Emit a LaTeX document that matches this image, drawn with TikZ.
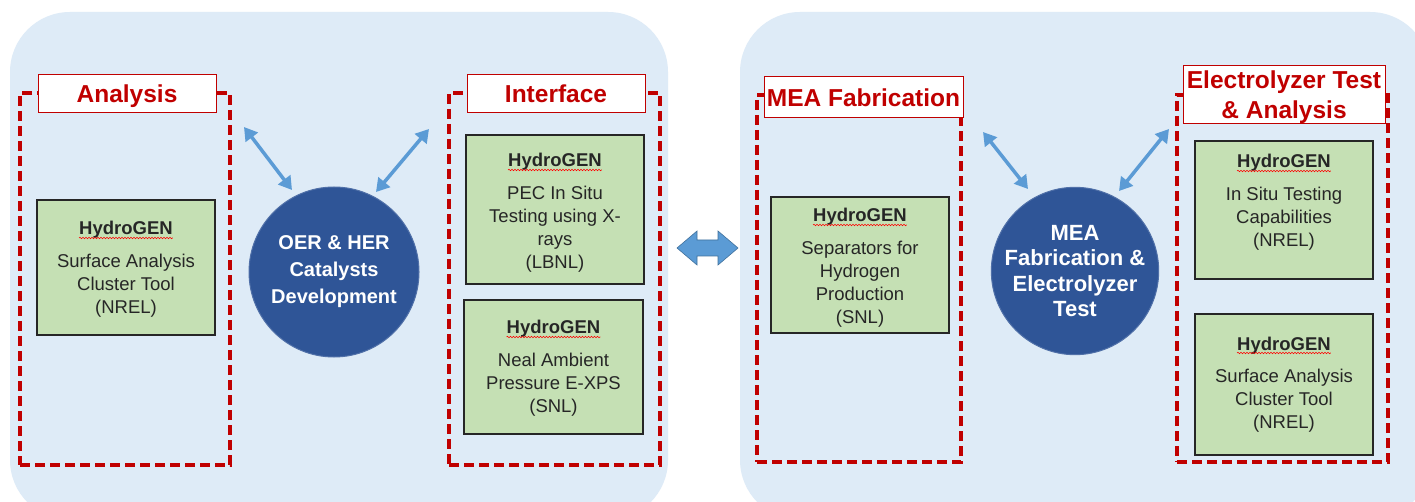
\documentclass[tikz,border=0pt]{standalone}
\usepackage{fontspec}
\setmainfont{Liberation Sans}
\usetikzlibrary{arrows.meta,decorations.pathmorphing}
\definecolor{panel}{HTML}{DEEBF7}
\definecolor{dred}{HTML}{C00000}
\definecolor{cblue}{HTML}{2F5597}
\definecolor{cedge}{HTML}{5070A8}
\definecolor{ablue}{HTML}{5B9BD5}
\definecolor{aedge}{HTML}{41719C}
\definecolor{gfill}{HTML}{C5E0B4}
\definecolor{tgray}{HTML}{262626}
\tikzset{
  panelst/.style={fill=panel, rounded corners=60pt},
  dashbox/.style={draw=dred, line width=3.2pt, dash pattern=on 10pt off 5pt, inner sep=0pt},
  titlest/.style={draw=dred, line width=1pt, fill=white, text=dred, inner sep=0pt,
     font=\bfseries\fontsize{24.5}{30}\selectfont, align=center, text depth=0pt},
  gboxst/.style={draw=tgray, line width=1.2pt, fill=gfill, inner sep=0pt},
  hydst/.style={inner sep=0pt, text=tgray, font=\bfseries\fontsize{18.5}{20}\selectfont},
  bodyst/.style={inner sep=0pt, text=tgray, align=center, font=\fontsize{18.5}{23}\selectfont},
  squig/.style={draw=red, line width=0.6pt, decorate, decoration={snake, amplitude=0.7pt, segment length=3pt}},
  circst/.style={circle, fill=cblue, draw=cedge, line width=1pt, text=white, align=center, inner sep=0pt},
  darrow/.style={ablue, line width=3.5pt, {Triangle[width=15pt,length=13pt]}-{Triangle[width=15pt,length=13pt]}},
  blockarrow/.style={fill=ablue, draw=aedge, line width=0.6pt}
}
\newcommand\gbox[7]{%
  \node[gboxst, minimum width=#4, minimum height=#5] (#1) at (#2,#3) {};
  \node[hydst, anchor=base] (#1h) at (#2,#6) {HydroGEN};
  \draw[squig] ([yshift=-3pt]#1h.base west) -- ([yshift=-3pt]#1h.base east);
  \node[bodyst, anchor=north] (#1b) at (#2,#6+19) {#7};
}
\begin{document}
\begin{tikzpicture}[x=1pt,y=-1pt]
\useasboundingbox (0,0) rectangle (1415,502);
\fill[white] (0,0) rectangle (1415,502);
% panels
\fill[panelst] (10,12) rectangle (668,520);
\fill[panelst] (740,12) rectangle (1430,520);
% dashed group boxes
\node[dashbox, minimum width=210, minimum height=372] (d1) at (125,279) {};
\node[dashbox, minimum width=211, minimum height=372] (d2) at (554.5,279) {};
\node[dashbox, minimum width=204, minimum height=367] (d3) at (859,278.5) {};
\node[dashbox, minimum width=211, minimum height=367] (d4) at (1282.5,278.5) {};
% titles
\node[titlest, minimum width=178, minimum height=38] (t1) at (127,94) {Analysis};
\node[titlest, minimum width=178, minimum height=38] (t2) at (556,94) {Interface};
\node[titlest, minimum width=199, minimum height=41] (t3) at (863.5,97.5) {MEA Fabrication};
\node[titlest, minimum width=202, minimum height=58] (t4) at (1284,95) {Electrolyzer Test\\\& Analysis};
% green boxes
\gbox{g1}{126}{267.5}{178}{135}{235}{Surface Analysis\\Cluster Tool\\(NREL)}
\gbox{g2}{555}{209.5}{178}{149}{167}{PEC In Situ\\Testing using X-\\rays\\(LBNL)}
\gbox{g3}{553.5}{367}{179}{134}{334}{Neal Ambient\\Pressure E-XPS\\(SNL)}
\gbox{g4}{860}{265}{178}{136}{222}{Separators for\\Hydrogen\\Production\\(SNL)}
\gbox{g5}{1284}{210}{178}{138}{168}{In Situ Testing\\Capabilities\\(NREL)}
\gbox{g6}{1284}{384.5}{178}{141}{350}{Surface Analysis\\Cluster Tool\\(NREL)}
% circles
\node[circst, minimum size=170, font=\bfseries\fontsize{20}{27}\selectfont] (c1) at (334,272) {OER \& HER\\Catalysts\\Development};
\node[circst, minimum size=166, font=\bfseries\fontsize{22}{25.5}\selectfont] (c2) at (1075,271) {MEA\\Fabrication \&\\Electrolyzer\\Test};
% arrow end points
\coordinate (a1s) at (244,127); \coordinate (a1e) at (292,190);
\coordinate (a2s) at (429,129); \coordinate (a2e) at (376,192);
\coordinate (a3s) at (983,132); \coordinate (a3e) at (1028,189);
\coordinate (a4s) at (1169,129); \coordinate (a4e) at (1119,191);
\draw[darrow] (a1s) -- (a1e);
\draw[darrow] (a2s) -- (a2e);
\draw[darrow] (a3s) -- (a3e);
\draw[darrow] (a4s) -- (a4e);
% central block double arrow
\draw[blockarrow] (677,248) -- (697,231) -- (697,240) -- (718,240) -- (718,231) -- (738,248)
  -- (718,265) -- (718,256) -- (697,256) -- (697,265) -- cycle;
\end{tikzpicture}
\end{document}
